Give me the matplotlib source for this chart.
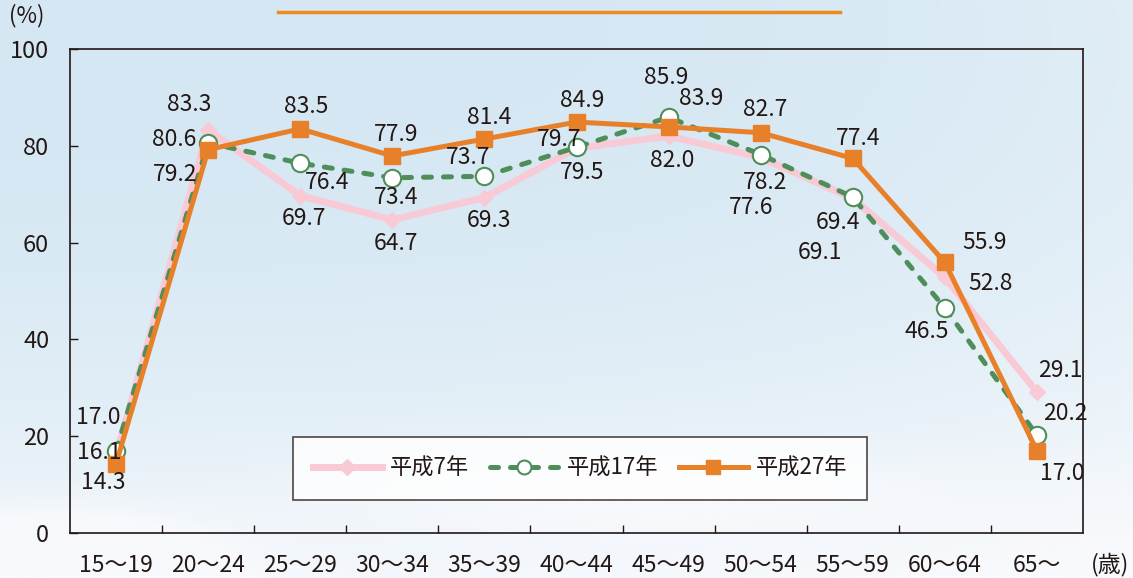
import numpy as np
import matplotlib
matplotlib.use("Agg")
import matplotlib.pyplot as plt
from matplotlib.lines import Line2D

plt.rcParams['font.family'] = ['Noto Sans CJK JP', 'DejaVu Sans']

# ---- data ----
categories = ["15〜19", "20〜24", "25〜29", "30〜34", "35〜39", "40〜44",
              "45〜49", "50〜54", "55〜59", "60〜64", "65〜"]
h7 = [16.1, 83.3, 69.7, 64.7, 69.3, 79.5, 82.0, 77.6, 69.1, 52.8, 29.1]
h17 = [17.0, 80.6, 76.4, 73.4, 73.7, 79.7, 85.9, 78.2, 69.4, 46.5, 20.2]
h27 = [14.3, 79.2, 83.5, 77.9, 81.4, 84.9, 83.9, 82.7, 77.4, 55.9, 17.0]
series_names = ["平成7年", "平成17年", "平成27年"]
yticks = [0, 20, 40, 60, 80, 100]

# label offsets (pixels)
off7 = [(-17, 3), (-19, 25), (4, -23), (4, -24), (5, -23), (6, -24),
        (4, -24), (-10, -50), (-33, -54), (46, -6), (23, 22)]
off17 = [(-18, 33), (-34, 3), (27, -19), (4, -20), (-16, 19), (-17, 8),
         (-2, 40), (4, -28), (-15, -25), (-18, -24), (28, 22)]
off27 = [(-13, -19), (-33, -25), (6, 22), (4, 21), (5, 22), (6, 22),
         (33, 28), (5, 23), (5, 20), (40, 20), (25, -23)]

W, H = 1133, 578
fig = plt.figure(figsize=(W / 100, H / 100), dpi=100)

# background gradient
bg = fig.add_axes([0, 0, 1, 1])
yy, xx = np.mgrid[0:1:300j, 0:1:600j]
blue = np.array([212, 231, 243]) / 255
white = np.array([247, 249, 252]) / 255
t = np.clip(0.9 * yy ** 2.2 + 0.35 * xx ** 3 * (1 - 0.3 * yy), 0, 1)
cloud = np.exp(-(((xx - 0.05) / 0.12) ** 2 + ((yy - 0.98) / 0.08) ** 2))
cloud2 = np.exp(-(((xx - 0.55) / 0.25) ** 2 + ((yy - 0.85) / 0.07) ** 2)) * 0.4
t = np.clip(t + cloud + cloud2, 0, 1)
img = blue[None, None, :] * (1 - t[..., None]) + white[None, None, :] * t[..., None]
bg.imshow(img, aspect='auto', extent=[0, 1, 0, 1], origin='upper')
bg.set_axis_off()
bg.plot([278 / W, 840 / W], [1 - 12 / H, 1 - 12 / H], color='#EE8A1E', lw=2.5)
bg.set_xlim(0, 1)
bg.set_ylim(0, 1)

ax = fig.add_axes([70 / W, (H - 533) / H, (1083 - 70) / W, (533 - 49) / H])
ax.patch.set_alpha(0)

x = np.arange(len(categories))
pink = '#F8CAD6'
green = '#4F8E5B'
orange = '#E8802A'
ink = '#231815'

ax.plot(x, h7, color=pink, lw=5, marker='D', ms=8, mfc=pink, mec=pink,
        zorder=2, label=series_names[0])
ax.plot(x, h17, color=green, lw=3.6, ls=(0, (1.6, 2.4)), dash_capstyle='round',
        marker='o', ms=12.5, mfc='white', mec=green, mew=1.5, zorder=3,
        label=series_names[1])
ax.plot(x, h27, color=orange, lw=3.6, marker='s', ms=12, mfc=orange, mec=orange,
        zorder=4, label=series_names[2])

for vals, offs in ((h7, off7), (h17, off17), (h27, off27)):
    for i, (v, o) in enumerate(zip(vals, offs)):
        ax.annotate(f"{v:.1f}", (x[i], v), xytext=o, textcoords='offset pixels',
                    ha='center', va='center', fontsize=16.5, color=ink, zorder=6)

ax.set_xlim(-0.5, len(categories) - 0.5)
ax.set_ylim(0, 100)
ax.set_yticks(yticks)
ax.set_yticklabels([str(v) for v in yticks])
ax.set_xticks(x)
ax.set_xticklabels(categories)
ax.set_xticks(np.arange(0.5, len(categories) - 1, 1), minor=True)
ax.tick_params(axis='x', which='major', length=0, pad=15, labelsize=16.5, colors=ink)
ax.tick_params(axis='x', which='minor', direction='in', length=6, width=1, color=ink)
ax.tick_params(axis='y', which='major', direction='in', length=6, width=1,
               pad=15, labelsize=17, colors=ink)
for s in ax.spines.values():
    s.set_color(ink)
    s.set_linewidth(1.2)

fig.text(27 / W, 1 - 16 / H, "(%)", ha='center', va='center', fontsize=16, color=ink)
fig.text(1110 / W, 1 - 565 / H, "(歳)", ha='center', va='center', fontsize=16.5, color=ink)

handles = [
    Line2D([], [], color=pink, lw=5, marker='D', ms=8, mfc=pink, mec=pink),
    Line2D([], [], color=green, lw=3.6, ls=(0, (1.6, 2.4)), dash_capstyle='round',
           marker='o', ms=10, mfc='white', mec=green, mew=1.5),
    Line2D([], [], color=orange, lw=3.6, marker='s', ms=10, mfc=orange, mec=orange),
]
leg = ax.legend(handles, series_names, loc='center', ncol=3,
                bbox_to_anchor=((580 - 70) / (1083 - 70), (533 - 468) / (533 - 49)),
                fontsize=16, frameon=True, fancybox=False, handlelength=3.1,
                handletextpad=0.35, columnspacing=0.95, borderpad=0.9)
leg.get_frame().set_edgecolor(ink)
leg.get_frame().set_linewidth(1.2)
leg.get_frame().set_facecolor((1, 1, 1, 0.2))
for t_ in leg.get_texts():
    t_.set_color(ink)

fig.savefig('out.png', dpi=100)
